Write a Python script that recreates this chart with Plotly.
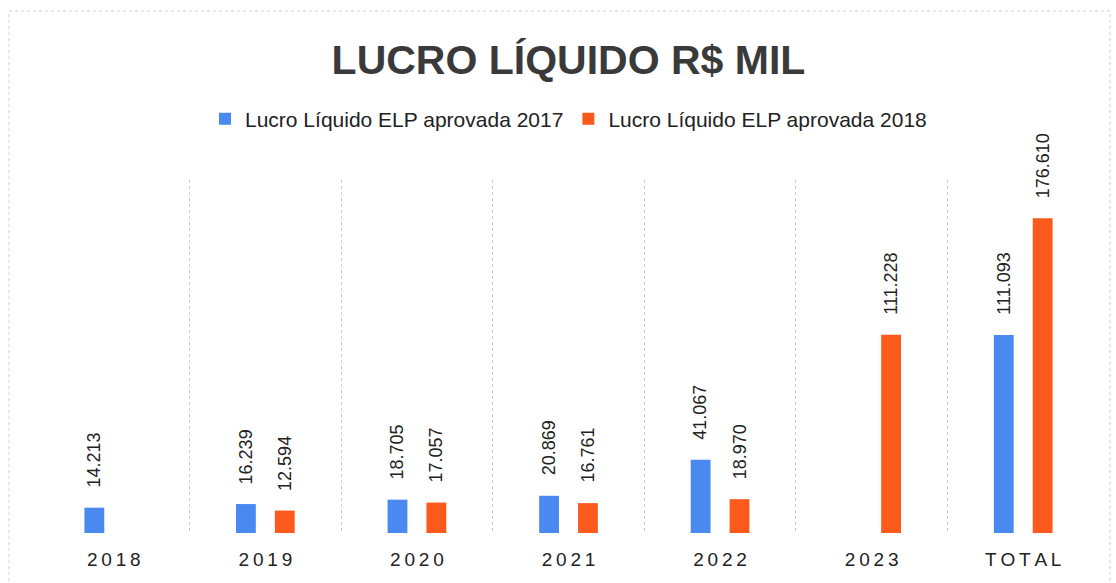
import plotly.graph_objects as go

categories = ["2018", "2019", "2020", "2021", "2022", "2023", "TOTAL"]
lucro_2017 = [14213, 16239, 18705, 20869, 41067, None, 111093]
lucro_2018 = [None, 12594, 17057, 16761, 18970, 111228, 176610]
series_names = ["Lucro Líquido ELP aprovada 2017", "Lucro Líquido ELP aprovada 2018"]
colors = ["#4A89F0", "#FC5A1C"]
label_shift = [-19.5, 19.5]

def spaced(s):
    return "\u2009".join(list(s))

def fmt(v):
    return f"{v:,}".replace(",", ".")

fig = go.Figure()
annotations = []
for name, vals, col, dx in zip(series_names, [lucro_2017, lucro_2018], colors, label_shift):
    fig.add_trace(go.Bar(
        x=categories, y=vals, name=name, marker_color=col,
        marker_line_width=0,
    ))
    for i, v in enumerate(vals):
        if v is None:
            continue
        annotations.append(dict(
            x=i, y=v, xref="x", yref="y", text=fmt(v), showarrow=False,
            textangle=-90, xanchor="center", yanchor="bottom", xshift=dx, yshift=18,
            font=dict(family="Liberation Sans", size=18, color="#222222"),
        ))

fig.update_layout(
    width=1116, height=583,
    barmode="group", bargap=0.487, bargroupgap=0.49,
    paper_bgcolor="white", plot_bgcolor="white",
    margin=dict(l=38, r=17, t=180, b=50, autoexpand=False),
    title=dict(text="LUCRO LÍQUIDO R$ MIL", x=0.5, xref="paper", xanchor="center",
               y=1 - 60 / 583, yref="container", yanchor="middle",
               font=dict(family="Liberation Sans", size=41, color="#3a3a3a", weight="bold")),
    legend=dict(orientation="h", x=0.5, xanchor="center", y=1 - 119 / 583, yref="container",
                yanchor="middle",
                font=dict(family="Liberation Sans", size=21, color="#222222"),
                itemwidth=30, tracegroupgap=0),
    showlegend=True,
    annotations=annotations,
    shapes=[dict(type="rect", xref="paper", yref="paper",
                 x0=(9 - 38) / 1061, x1=(1110 - 38) / 1061,
                 y0=-(590 - 533) / 353, y1=1 + (180 - 11) / 353,
                 line=dict(color="#d0d0d0", width=1, dash="dot"), layer="below")],
)
fig.update_xaxes(
    type="category", tickson="boundaries", showgrid=True, gridcolor="#c8c8c8", griddash="dot",
    gridwidth=1, ticks="", showline=False, zeroline=False, automargin=False,
    tickvals=categories, ticktext=[spaced(c) for c in categories],
    tickfont=dict(family="Liberation Sans", size=19, color="#222222"),
    ticklabelstandoff=13,
)
fig.update_yaxes(
    range=[0, 198000], tickvals=[0], showticklabels=False, showgrid=True, automargin=False,
    gridcolor="#bdbdbd", griddash="dot", zeroline=False, showline=False,
)
fig.write_html("out.html", config={"displayModeBar": False},
               post_script="document.body.style.margin='0px';")
